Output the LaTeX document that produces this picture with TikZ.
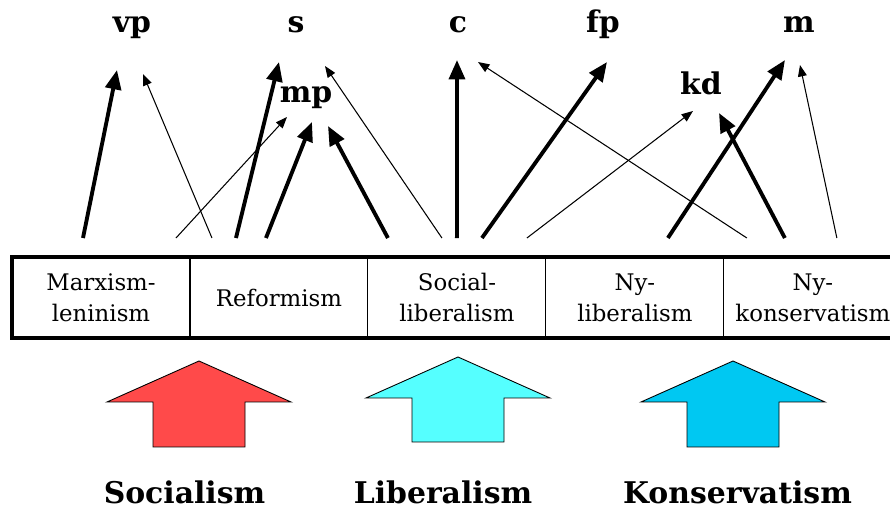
\documentclass[tikz,border=0pt]{standalone}
\usepackage{fontspec}
\setmainfont{DejaVu Serif}
\usetikzlibrary{positioning,arrows.meta}
\definecolor{colSoc}{RGB}{255,74,74}
\definecolor{colLib}{RGB}{85,255,255}
\definecolor{colKons}{RGB}{0,200,242}

\begin{document}
\begin{tikzpicture}[
    x=0.02cm, y=-0.02cm,
    every node/.style={align=center},
    cell/.style={draw, line width=0.6pt, outer sep=0pt, inner sep=0pt, minimum width=3.56cm, minimum height=1.62cm, font=\fontsize{13}{17.6}\selectfont},
    lbl/.style={font=\fontsize{17}{20}\selectfont\bfseries, inner sep=0pt, anchor=base},
    tjock/.style={line width=2.2pt, -{Triangle[length=11pt, width=9pt]}},
    tunn/.style={line width=0.6pt, -{Triangle[length=6.5pt, width=5pt]}},
    pil/.style={draw, line width=0.5pt, line join=miter}
]
    \useasboundingbox (0,0) rectangle (890,509);

    % ideologierna
    \node[cell] (ml) at (101,297.5) {Marxism-\\leninism};
    \node[cell, right=0pt of ml] (ref) {Reformism};
    \node[cell, right=0pt of ref] (sl) {Social-\\liberalism};
    \node[cell, right=0pt of sl] (nl) {Ny-\\liberalism};
    \node[cell, right=0pt of nl] (nk) {Ny-\\konservatism};
    \draw[line width=2.3pt] (ml.north west) rectangle (nk.south east);

    % partierna
    \node[lbl] (vp) at (132,33) {vp};
    \node[lbl] (s) at (296,33) {s};
    \node[lbl] (mp) at (306,103) {mp};
    \node[lbl] (c) at (458,33) {c};
    \node[lbl] (fp) at (603,33) {fp};
    \node[lbl] (kd) at (701,95) {kd};
    \node[lbl] (m) at (799,33) {m};

    \draw[tjock] ([shift={(-18,-19)}]ml.north) -- ([shift={(-15,37)}]vp.base);
    \draw[tunn] ([shift={(-67,-19)}]ref.north) -- ([shift={(11,41)}]vp.base);
    \draw[tunn] ([shift={(75,-19)}]ml.north) -- ([shift={(-19,14)}]mp.base);
    \draw[tjock] ([shift={(-43,-19)}]ref.north) -- ([shift={(-17,29)}]s.base);
    \draw[tjock] ([shift={(-13,-19)}]ref.north) -- ([shift={(6,19)}]mp.base);
    \draw[tjock] ([shift={(-69,-19)}]sl.north) -- ([shift={(22,23)}]mp.base);
    \draw[tunn] ([shift={(-15,-19)}]sl.north) -- ([shift={(29,33)}]s.base);
    \draw[tjock] ([shift={(0,-19)}]sl.north) -- ([shift={(-1,27)}]c.base);
    \draw[tunn] ([shift={(-66,-19)}]nk.north) -- ([shift={(20,29)}]c.base);
    \draw[tjock] ([shift={(25,-19)}]sl.north) -- ([shift={(4,29)}]fp.base);
    \draw[tunn] ([shift={(70,-19)}]sl.north) -- ([shift={(-8,16)}]kd.base);
    \draw[tjock] ([shift={(33,-19)}]nl.north) -- ([shift={(-14,27)}]m.base);
    \draw[tjock] ([shift={(-28,-19)}]nk.north) -- ([shift={(18,18)}]kd.base);
    \draw[tunn] ([shift={(24,-19)}]nk.north) -- ([shift={(1,32)}]m.base);

    % huvudideologierna
    \draw[pil, fill=colSoc] (199,361) -- ++(92,41) -- ++(-46,0) -- ++(0,45) -- ++(-92,0) -- ++(0,-45) -- ++(-46,0) -- cycle;
    \draw[pil, fill=colLib] (458,357) -- ++(92,41) -- ++(-46,0) -- ++(0,44) -- ++(-92,0) -- ++(0,-44) -- ++(-46,0) -- cycle;
    \draw[pil, fill=colKons] (733,361) -- ++(92,41) -- ++(-46,0) -- ++(0,45) -- ++(-92,0) -- ++(0,-45) -- ++(-46,0) -- cycle;

    \node[lbl] (soc) at (184.5,504) {Socialism};
    \node[lbl] (lib) at (443,504) {Liberalism};
    \node[lbl] (kons) at (737.5,504) {Konservatism};
\end{tikzpicture}
\end{document}
